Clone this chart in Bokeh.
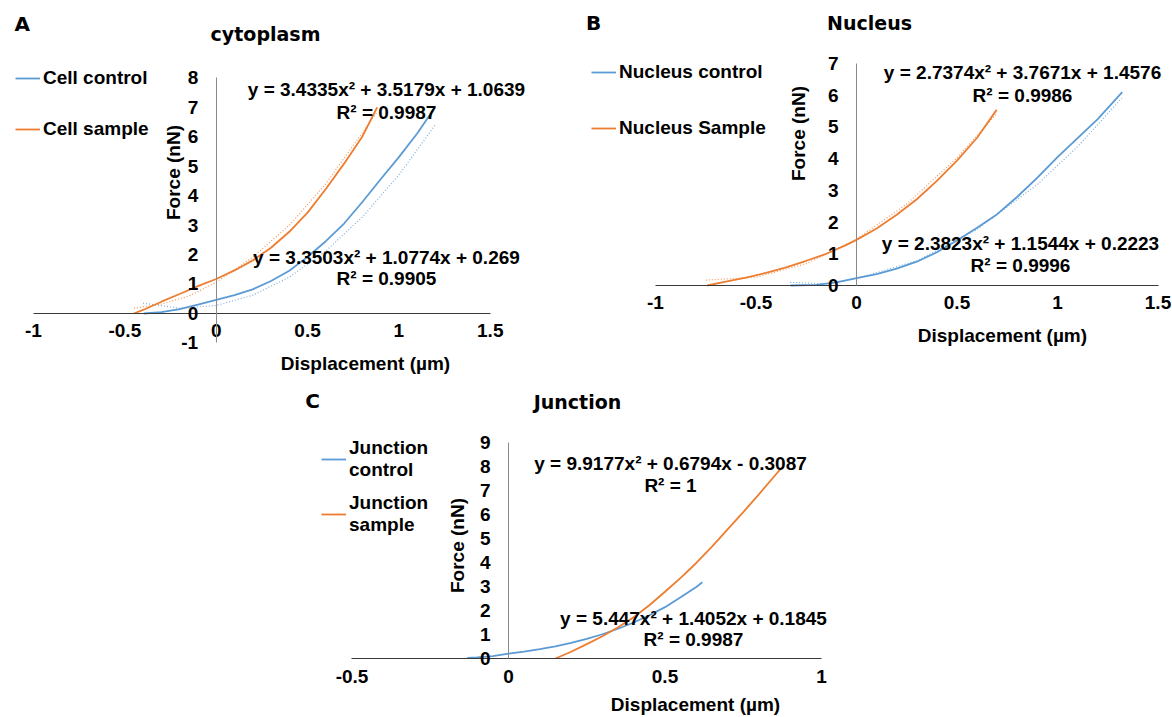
from bokeh.plotting import figure
from bokeh.models import (Range1d, LinearAxis, FixedTicker, CustomJSTickFormatter,
                          Label, Legend, LegendItem)
from bokeh.layouts import column, row
from bokeh.embed import file_html
from bokeh.resources import INLINE

# ---------------- data ----------------
# Panel A: cytoplasm
cell_control_x = [-0.396, -0.3, -0.2, -0.1, 0.0, 0.1, 0.2, 0.3, 0.4, 0.5, 0.6, 0.7, 0.8,
                  0.9, 1.0, 1.1, 1.198]
cell_control_y = [0.0, 0.05, 0.15, 0.30, 0.46, 0.62, 0.82, 1.10, 1.45, 1.92, 2.45, 3.05,
                  3.78, 4.55, 5.30, 6.10, 6.99]
cell_sample_x = [-0.451, -0.4, -0.3, -0.2, -0.1, 0.0, 0.1, 0.2, 0.3, 0.4, 0.5, 0.6, 0.7,
                 0.8, 0.881]
cell_sample_y = [0.0, 0.12, 0.40, 0.66, 0.93, 1.17, 1.46, 1.80, 2.23, 2.77, 3.42, 4.22,
                 5.08, 6.00, 6.99]
cell_control_trend_x = [-0.4, -0.2, 0.0, 0.2, 0.4, 0.6, 0.8, 1.0, 1.2]
cell_control_trend_y = [0.35, 0.18, 0.27, 0.62, 1.23, 2.12, 3.27, 4.70, 6.40]
cell_sample_trend_x = [-0.45, -0.3, -0.15, 0.0, 0.2, 0.4, 0.6, 0.88]
cell_sample_trend_y = [0.18, 0.32, 0.59, 1.06, 1.91, 2.99, 4.40, 6.82]

# Panel B: nucleus
nuc_control_x = [-0.328, -0.2, -0.1, 0.0, 0.1, 0.2, 0.3, 0.4, 0.5, 0.6, 0.7, 0.8, 0.9,
                 1.0, 1.1, 1.2, 1.322]
nuc_control_y = [0.0, 0.02, 0.10, 0.23, 0.36, 0.53, 0.75, 1.05, 1.42, 1.82, 2.25, 2.80,
                 3.40, 4.05, 4.65, 5.25, 6.10]
nuc_sample_x = [-0.743, -0.65, -0.55, -0.45, -0.35, -0.25, -0.15, -0.05, 0.0, 0.1, 0.2,
                0.3, 0.4, 0.5, 0.6, 0.697]
nuc_sample_y = [0.0, 0.12, 0.25, 0.40, 0.57, 0.78, 1.00, 1.28, 1.44, 1.80, 2.23, 2.72,
                3.30, 3.94, 4.66, 5.54]
nuc_control_trend_x = [-0.33, -0.15, 0.0, 0.3, 0.6, 0.9, 1.1, 1.32]
nuc_control_trend_y = [0.10, 0.05, 0.22, 0.78, 1.77, 3.19, 4.38, 5.91]
nuc_sample_trend_x = [-0.75, -0.5, -0.25, 0.0, 0.25, 0.5, 0.7]
nuc_sample_trend_y = [0.17, 0.26, 0.69, 1.46, 2.57, 4.03, 5.44]

# Panel C: junction
junc_control_x = [-0.132, -0.1, -0.05, 0.0, 0.05, 0.1, 0.15, 0.2, 0.25, 0.3, 0.35, 0.4,
                  0.45, 0.5, 0.55, 0.6, 0.619]
junc_control_y = [0.03, 0.05, 0.10, 0.20, 0.29, 0.39, 0.51, 0.65, 0.82, 1.01, 1.24, 1.50,
                  1.80, 2.14, 2.55, 2.98, 3.18]
junc_sample_x = [0.150, 0.2, 0.25, 0.3, 0.35, 0.4, 0.45, 0.5, 0.55, 0.6, 0.65, 0.7, 0.75,
                 0.8, 0.874]
junc_sample_y = [0.0, 0.28, 0.60, 0.93, 1.30, 1.72, 2.22, 2.78, 3.36, 3.98, 4.66, 5.38,
                 6.10, 6.84, 7.97]

# tick values
ticks_x_ab = [-1, -0.5, 0, 0.5, 1, 1.5]
ticks_y_a = [-1, 0, 1, 2, 3, 4, 5, 6, 7, 8]
ticks_y_b = [0, 1, 2, 3, 4, 5, 6, 7]
ticks_x_c = [-0.5, 0, 0.5, 1]
ticks_y_c = [0, 1, 2, 3, 4, 5, 6, 7, 8, 9]

BLUE = "#5B9BD5"
ORANGE = "#ED7D31"
FONT = "Liberation Sans"
TFONT = "DejaVu Sans"
FS = "19px"


def make_fig(w, h, xr, yr):
    p = figure(width=w, height=h, x_range=Range1d(*xr), y_range=Range1d(*yr),
               x_axis_location=None, y_axis_location=None, toolbar_location=None,
               output_backend="svg", min_border=0)
    p.title.visible = False
    p.outline_line_color = None
    p.background_fill_color = "white"
    p.border_fill_color = "white"
    p.grid.visible = False
    return p


def add_axes(p, xticks, yticks, xb, yb):
    xa = LinearAxis(fixed_location=0, bounds=xb, ticker=FixedTicker(ticks=xticks),
                    formatter=CustomJSTickFormatter(code="return tick.toString();"))
    ya = LinearAxis(fixed_location=0, bounds=yb, ticker=FixedTicker(ticks=yticks),
                    formatter=CustomJSTickFormatter(code="return tick.toString();"))
    for a in (xa, ya):
        a.major_tick_out = 0
        a.major_tick_in = 0
        a.minor_tick_out = 0
        a.minor_tick_in = 0
        a.major_label_text_font = FONT
        a.major_label_text_font_style = "bold"
        a.major_label_text_font_size = FS
        a.major_label_text_color = "black"
        a.axis_line_width = 1
    xa.axis_line_color = "#3a3a3a"
    ya.axis_line_color = "#8a8a8a"
    xa.major_label_standoff = 11
    ya.major_label_standoff = 18
    p.add_layout(xa, "below")
    p.add_layout(ya, "left")


def txt(p, x, y, s, font=FONT, size=FS, angle=0):
    p.add_layout(Label(x=x, y=y, text=s, text_align="center", text_baseline="middle",
                       text_font=font, text_font_style="bold", text_font_size=size,
                       text_color="black", angle=angle, angle_units="deg"))


def legend(p, items, loc, spacing):
    lg = Legend(items=items, location=loc, glyph_width=25, glyph_height=20,
                label_height=20, label_standoff=3, spacing=spacing, padding=0,
                margin=0, border_line_color=None, background_fill_alpha=0,
                label_text_font=FONT, label_text_font_style="bold",
                label_text_font_size=FS, label_text_color="black")
    p.add_layout(lg)


def trend(p, xs, ys, color):
    p.line(xs, ys, line_color=color, line_width=1.2, line_dash="1 2", line_alpha=0.8)


# ---------------- Panel A ----------------
pA = make_fig(580, 385, (-1.1806, 1.9940), (-2.4407, 10.6102))
add_axes(pA, ticks_x_ab, ticks_y_a, (-1, 1.5), (-1, 8))
trend(pA, cell_control_trend_x, cell_control_trend_y, BLUE)
trend(pA, cell_sample_trend_x, cell_sample_trend_y, ORANGE)
a1 = pA.line(cell_control_x, cell_control_y, line_color=BLUE, line_width=1.8)
a2 = pA.line(cell_sample_x, cell_sample_y, line_color=ORANGE, line_width=1.8)
legend(pA, [LegendItem(label="Cell control", renderers=[a1]),
            LegendItem(label="Cell sample", renderers=[a2])], (15, 245), 29)
txt(pA, -1.062, 9.83, "A", font=TFONT, size="20px")
txt(pA, 0.270, 9.49, "cytoplasm", font=TFONT, size="19px")
txt(pA, 0.932, 7.593, "y = 3.4335x² + 3.5179x + 1.0639")
txt(pA, 0.932, 6.814, "R² = 0.9987")
txt(pA, 0.932, 1.898, "y = 3.3503x² + 1.0774x + 0.269")
txt(pA, 0.932, 1.186, "R² = 0.9905")
txt(pA, 0.817, -1.695, "Displacement (µm)")
txt(pA, -0.234, 4.78, "Force (nN)", angle=90)

# ---------------- Panel B ----------------
pB = make_fig(592, 385, (-1.3731, 1.5721), (-3.1546, 8.9905))
add_axes(pB, ticks_x_ab, ticks_y_b, (-1, 1.5), (0, 7))
trend(pB, nuc_control_trend_x, nuc_control_trend_y, BLUE)
trend(pB, nuc_sample_trend_x, nuc_sample_trend_y, ORANGE)
b1 = pB.line(nuc_control_x, nuc_control_y, line_color=BLUE, line_width=1.8)
b2 = pB.line(nuc_sample_x, nuc_sample_y, line_color=ORANGE, line_width=1.8)
legend(pB, [LegendItem(label="Nucleus control", renderers=[b1]),
            LegendItem(label="Nucleus Sample", renderers=[b2])], (11, 246), 34)
txt(pB, -1.308, 8.28, "B", font=TFONT, size="20px")
txt(pB, 0.065, 8.265, "Nucleus", font=TFONT, size="19px")
txt(pB, 0.826, 6.72, "y = 2.7374x² + 3.7671x + 1.4576")
txt(pB, 0.826, 5.99, "R² = 0.9986")
txt(pB, 0.816, 1.325, "y = 2.3823x² + 1.1544x + 0.2223")
txt(pB, 0.816, 0.631, "R² = 0.9996")
txt(pB, 0.726, -1.577, "Displacement (µm)")
txt(pB, -0.289, 4.795, "Force (nN)", angle=90)

# ---------------- Panel C ----------------
pC = make_fig(1172, 332, (-1.6230, 2.1214), (-2.4583, 11.375))
add_axes(pC, ticks_x_c, ticks_y_c, (-0.5, 1), (0, 9))
c1 = pC.line(junc_control_x, junc_control_y, line_color=BLUE, line_width=1.8)
c2 = pC.line(junc_sample_x, junc_sample_y, line_color=ORANGE, line_width=1.8)
legend(pC, [LegendItem(label="Junction\ncontrol", renderers=[c1]),
            LegendItem(label="Junction\nsample", renderers=[c2])], (321, 181), 11)
txt(pC, -0.626, 10.71, "C", font=TFONT, size="20px")
txt(pC, 0.2204, 10.667, "Junction", font=TFONT, size="19px")
txt(pC, 0.5176, 8.125, "y = 9.9177x² + 0.6794x - 0.3087")
txt(pC, 0.5176, 7.21, "R² = 1")
txt(pC, 0.591, 1.667, "y = 5.447x² + 1.4052x + 0.1845")
txt(pC, 0.591, 0.79, "R² = 0.9987")
txt(pC, 0.5974, -1.917, "Displacement (µm)")
txt(pC, -0.163, 4.708, "Force (nN)", angle=90)

layout = column(row(pA, pB), pC)
open("out.html", "w").write(file_html(layout, INLINE))
